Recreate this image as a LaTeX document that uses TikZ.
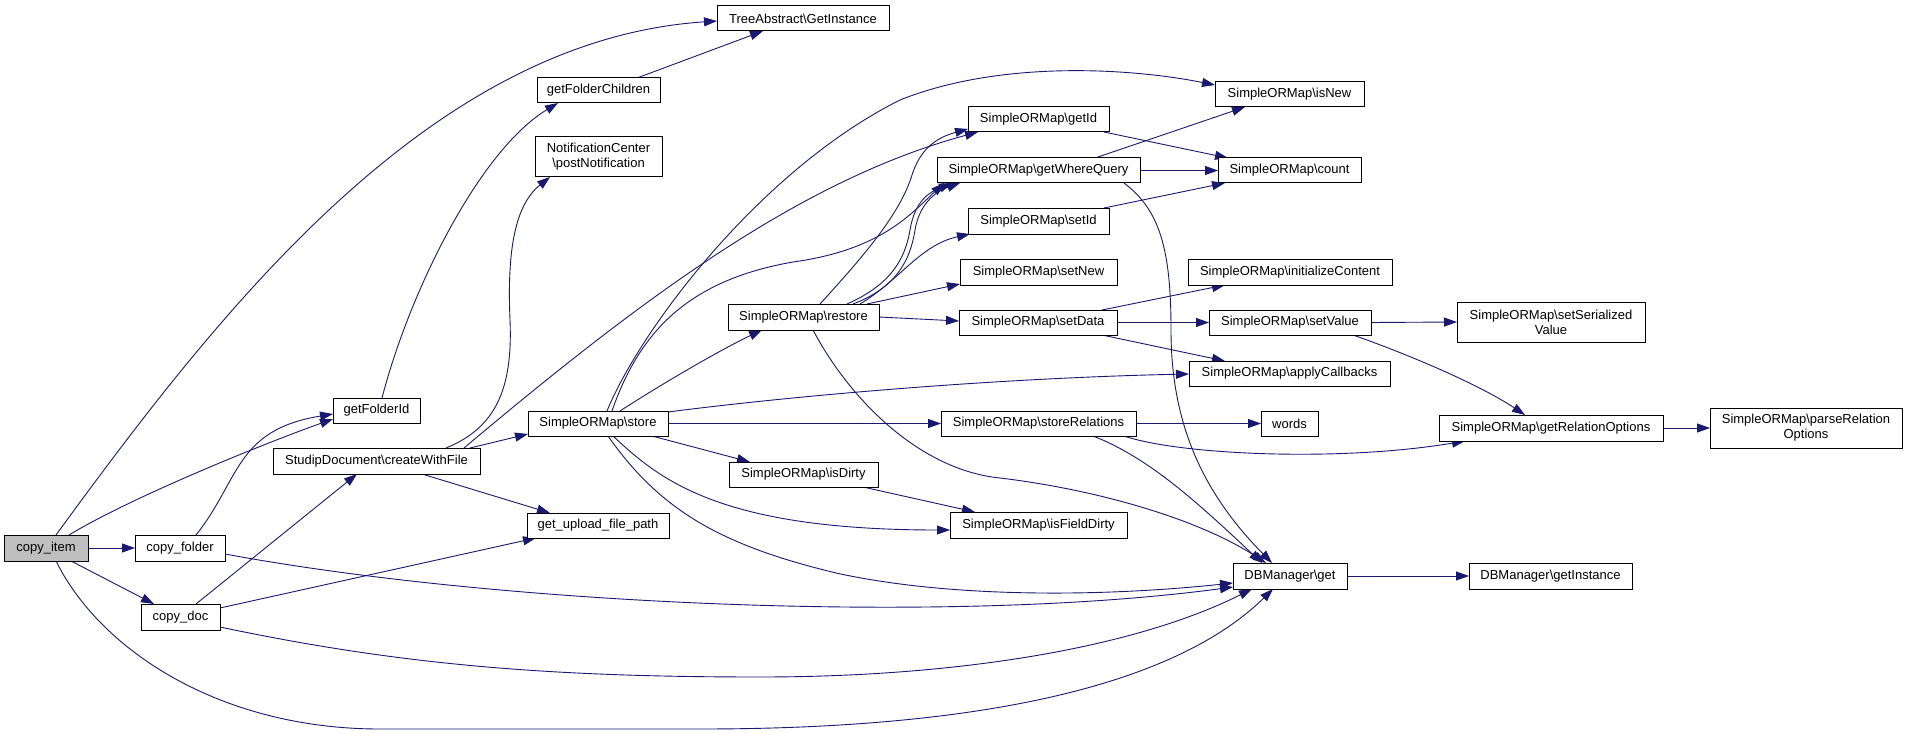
\documentclass[tikz,border=0pt]{standalone}
\usepackage{fontspec}
\setmainfont{Liberation Sans}
\usetikzlibrary{arrows.meta}
\definecolor{edgeblue}{HTML}{191970}
\definecolor{rootgray}{HTML}{BFBFBF}
\pgfdeclarelayer{bg}
\pgfsetlayers{bg,main}
\begin{document}
\begin{tikzpicture}[x=1pt,y=-1pt,
  fn/.style={draw=black,line width=1pt,fill=white,anchor=north west,inner sep=0pt,outer sep=0pt,align=center,font=\fontsize{13}{15}\selectfont},
  call/.style={draw=edgeblue,line width=0.9pt,-{Triangle[length=13pt,width=9pt]}}]
\useasboundingbox (0,0) rectangle (1907,733);
% nodes
\node[fn,minimum width=84pt,minimum height=26pt,fill=rootgray] (ci) at (4,535) {copy\_item};
\node[fn,minimum width=90pt,minimum height=26pt] (cf) at (135,535) {copy\_folder};
\node[fn,minimum width=79pt,minimum height=26pt] (cd) at (141,604) {copy\_doc};
\node[fn,minimum width=87pt,minimum height=25pt] (gfi) at (333,398) {getFolderId};
\node[fn,minimum width=207pt,minimum height=26pt] (cwf) at (273,448) {StudipDocument\textbackslash createWithFile};
\node[fn,minimum width=142pt,minimum height=25pt] (gup) at (527,513) {get\_upload\_file\_path};
\node[fn,minimum width=140pt,minimum height=25pt] (st) at (528,411) {SimpleORMap\textbackslash store};
\node[fn,minimum width=123pt,minimum height=25pt] (gfc) at (537,78) {getFolderChildren};
\node[fn,minimum width=127pt,minimum height=40pt] (pn) at (535,137) {NotificationCenter\\\textbackslash postNotification};
\node[fn,minimum width=172pt,minimum height=25pt] (tg) at (717,6) {TreeAbstract\textbackslash GetInstance};
\node[fn,minimum width=149pt,minimum height=25pt] (isn) at (1215,82) {SimpleORMap\textbackslash isNew};
\node[fn,minimum width=141pt,minimum height=25pt] (gid) at (968,107) {SimpleORMap\textbackslash getId};
\node[fn,minimum width=203pt,minimum height=25pt] (gwq) at (937,158) {SimpleORMap\textbackslash getWhereQuery};
\node[fn,minimum width=143pt,minimum height=25pt] (cnt) at (1218,158) {SimpleORMap\textbackslash count};
\node[fn,minimum width=141pt,minimum height=26pt] (sid) at (968,208) {SimpleORMap\textbackslash setId};
\node[fn,minimum width=157pt,minimum height=26pt] (snw) at (960,259) {SimpleORMap\textbackslash setNew};
\node[fn,minimum width=204pt,minimum height=26pt] (ic) at (1188,259) {SimpleORMap\textbackslash initializeContent};
\node[fn,minimum width=151pt,minimum height=26pt] (rs) at (728,304) {SimpleORMap\textbackslash restore};
\node[fn,minimum width=158pt,minimum height=25pt] (sd) at (959,310) {SimpleORMap\textbackslash setData};
\node[fn,minimum width=162pt,minimum height=25pt] (sv) at (1209,310) {SimpleORMap\textbackslash setValue};
\node[fn,minimum width=188pt,minimum height=40pt] (ssv) at (1457,302) {SimpleORMap\textbackslash setSerialized\\Value};
\node[fn,minimum width=201pt,minimum height=25pt] (ac) at (1189,361) {SimpleORMap\textbackslash applyCallbacks};
\node[fn,minimum width=195pt,minimum height=25pt] (sr) at (941,411) {SimpleORMap\textbackslash storeRelations};
\node[fn,minimum width=57pt,minimum height=25pt] (wd) at (1261,411) {words};
\node[fn,minimum width=224pt,minimum height=26pt] (gro) at (1439,415) {SimpleORMap\textbackslash getRelationOptions};
\node[fn,minimum width=192pt,minimum height=40pt] (pro) at (1710,408) {SimpleORMap\textbackslash parseRelation\\Options};
\node[fn,minimum width=149pt,minimum height=25pt] (idr) at (729,462) {SimpleORMap\textbackslash isDirty};
\node[fn,minimum width=177pt,minimum height=26pt] (ifd) at (950,512) {SimpleORMap\textbackslash isFieldDirty};
\node[fn,minimum width=114pt,minimum height=26pt] (dbg) at (1233,563) {DBManager\textbackslash get};
\node[fn,minimum width=163pt,minimum height=26pt] (dbi) at (1469,563) {DBManager\textbackslash getInstance};
% edges
\begin{pgfonlayer}{bg}
\fill[white] (0,0) rectangle (1907,733);
\draw[call] ([xshift=52pt]ci.north west) .. controls (220,310) and (430,40) .. ([yshift=-15pt]tg.north west);
\draw[call] ([xshift=65pt]ci.north west) .. controls (130,498) and (260,445) .. ([yshift=-21pt]gfi.north west);
\draw[call] (ci.east) -- (cf.west);
\draw[call] ([xshift=67pt]ci.south west) -- ([xshift=13pt]cd.north west);
\draw[call] ([xshift=52pt]ci.south west) .. controls (100,650) and (220,729) .. (380,729) -- (700,729) .. controls (1000,729) and (1180,680) .. ([xshift=40pt]dbg.south west);
\draw[call] ([xshift=61pt]cf.north west) .. controls (240,480) and (235,430) .. ([yshift=-16pt]gfi.north west);
\draw[call] ([yshift=-19pt]cf.north east) .. controls (500,605) and (950,625) .. ([yshift=-24pt]dbg.north west);
\draw[call] ([xshift=55pt]cd.north west) -- ([xshift=84pt]cwf.south west);
\draw[call] ([yshift=-4pt]cd.north east) -- ([xshift=9pt]gup.south west);
\draw[call] ([yshift=-23pt]cd.north east) .. controls (400,665) and (550,677) .. (760,677) .. controls (950,677) and (1130,650) .. ([xshift=19pt]dbg.south west);
\draw[call] ([xshift=49pt]gfi.north west) .. controls (410,290) and (480,150) .. ([xshift=21pt]gfc.south west);
\draw[call] ([xshift=100pt]gfc.north west) -- ([xshift=46pt]tg.south west);
\draw[call] ([xshift=173pt]cwf.north west) .. controls (495,428) and (513,390) .. (510,320) .. controls (507,250) and (515,205) .. ([xshift=15pt]pn.south west);
\draw[call] ([xshift=197pt]cwf.north west) -- ([yshift=-23pt]st.north west);
\draw[call] ([xshift=149pt]cwf.south west) -- ([xshift=23pt]gup.north west);
\draw[call] ([xshift=191pt]cwf.north west) .. controls (640,300) and (800,180) .. ([xshift=10pt]gid.south west);
\draw[call] ([xshift=79pt]st.north west) .. controls (640,330) and (760,170) .. (900,100) .. controls (1000,60) and (1130,68) .. ([yshift=-3pt]isn.north west);
\draw[call] ([xshift=84pt]st.north west) .. controls (640,330) and (690,280) .. (793,262) .. controls (880,250) and (910,215) .. ([xshift=7pt]gwq.south west);
\draw[call] ([xshift=92pt]st.north west) .. controls (660,385) and (720,350) .. ([xshift=34pt]rs.south west);
\draw[call] ([yshift=-1pt]st.north east) .. controls (800,395) and (1000,378) .. ([yshift=-13pt]ac.north west);
\draw[call] (st.east) -- (sr.west);
\draw[call] ([xshift=124pt]st.south west) -- ([xshift=21pt]idr.north west);
\draw[call] ([xshift=85pt]st.south west) .. controls (660,480) and (720,530) .. ([yshift=-18pt]ifd.north west);
\draw[call] ([xshift=80pt]st.south west) .. controls (660,510) and (720,545) .. (836,573) .. controls (950,598) and (1100,597) .. ([yshift=-20pt]dbg.north west);
\draw[call] ([xshift=92pt]rs.north west) .. controls (860,260) and (900,215) .. (912,175) .. controls (920,150) and (935,138) .. ([yshift=-22pt]gid.north west);
\draw[call] ([xshift=119pt]rs.north west) .. controls (890,285) and (905,260) .. (910,230) .. controls (915,200) and (930,192) .. ([xshift=15pt]gwq.south west);
\draw[call] ([xshift=125pt]rs.north west) .. controls (895,288) and (910,262) .. (915,230) .. controls (920,200) and (940,190) .. ([xshift=23pt]gwq.south west);
\draw[call] ([xshift=132pt]rs.north west) .. controls (900,280) and (920,245) .. ([xshift=2pt]sid.south west);
\draw[call] ([xshift=139pt]rs.north west) -- ([yshift=-25pt]snw.north west);
\draw[call] (rs.east) -- ([yshift=-11pt]sd.north west);
\draw[call] ([xshift=85pt]rs.south west) .. controls (850,400) and (920,470) .. (1000,478) .. controls (1100,490) and (1200,520) .. ([xshift=33pt]dbg.north west);
\draw[call] ([xshift=136pt]gid.south west) -- ([xshift=10pt]cnt.north west);
\draw[call] ([xshift=158pt]gwq.north west) -- ([xshift=30pt]isn.south west);
\draw[call] (gwq.east) -- (cnt.west);
\draw[call] ([xshift=187pt]gwq.south west) .. controls (1160,210) and (1171,250) .. (1171,330) .. controls (1171,420) and (1200,490) .. ([xshift=39pt]dbg.north west);
\draw[call] ([xshift=136pt]sid.north west) -- ([xshift=7pt]cnt.south west);
\draw[call] ([xshift=143pt]sd.north west) -- ([xshift=37pt]ic.south west);
\draw[call] (sd.east) -- (sv.west);
\draw[call] ([xshift=143pt]sd.south west) -- ([xshift=36pt]ac.north west);
\draw[call] (sv.east) -- (ssv.west);
\draw[call] ([xshift=144pt]sv.south west) .. controls (1410,355) and (1480,385) .. ([xshift=86pt]gro.north west);
\draw[call] (gro.east) -- (pro.west);
\draw[call] (sr.east) -- (wd.west);
\draw[call] ([xshift=183pt]sr.south west) .. controls (1180,455) and (1340,462) .. ([xshift=26pt]gro.south west);
\draw[call] ([xshift=152pt]sr.south west) .. controls (1150,458) and (1200,505) .. ([xshift=29pt]dbg.north west);
\draw[call] ([xshift=134pt]idr.south west) -- ([xshift=25pt]ifd.north west);
\draw[call] (dbg.east) -- (dbi.west);
\end{pgfonlayer}
\end{tikzpicture}
\end{document}
